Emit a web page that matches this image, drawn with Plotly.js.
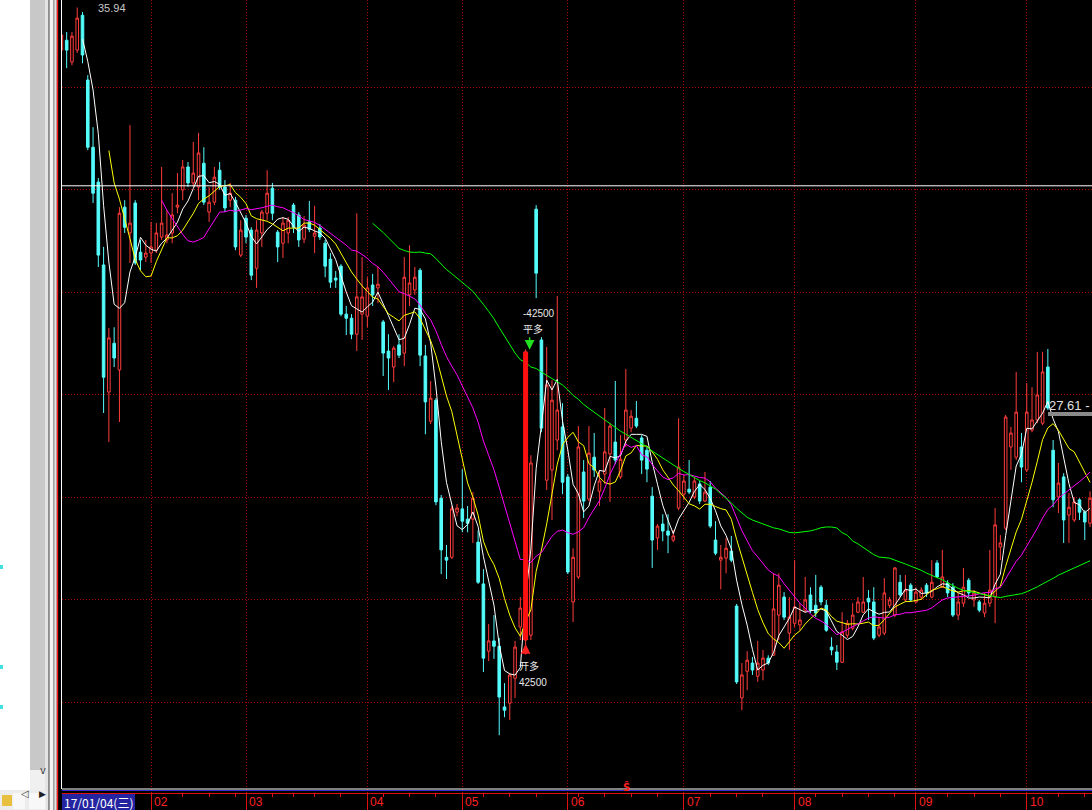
<!DOCTYPE html>
<html><head><meta charset="utf-8">
<script src="https://cdn.plot.ly/plotly-3.0.1.min.js"></script>
<style>html,body{margin:0;padding:0;background:#000;overflow:hidden}</style>
</head><body><div id="chart" style="width:1092px;height:810px"></div>
<script>
// ---- data (prices) ----
const openP = [34.90,35.14,34.61,34.90,35.75,34.17,32.53,31.68,29.66,26.56,
27.75,27.10,31.07,30.44,31.17,29.97,29.85,29.95,30.02,30.34,
30.27,30.44,31.07,31.49,32.05,31.66,31.56,32.14,30.95,31.19,
31.97,31.56,31.24,31.24,29.90,30.80,30.51,29.58,30.44,30.92,
31.53,30.46,30.19,30.44,31.12,30.88,30.29,30.71,30.36,30.56,
30.19,29.80,29.34,29.63,28.46,28.36,27.97,28.46,28.41,29.17,
29.10,28.27,27.56,27.17,27.71,27.51,28.93,29.05,29.53,27.44,
25.85,26.36,23.97,22.53,22.53,23.63,23.71,23.46,23.46,22.90,
21.88,20.24,20.49,20.36,18.88,18.97,19.58,20.83,20.51,20.63,
31.02,27.83,24.41,24.66,25.39,25.71,24.49,21.44,22.05,24.61,
23.95,24.97,24.14,24.56,25.05,25.34,24.49,25.39,25.68,25.92,
25.44,25.14,24.02,23.00,23.34,23.17,22.95,23.73,24.07,24.19,
24.00,24.32,23.90,24.24,22.95,22.46,22.51,22.68,21.34,19.10,
19.75,19.95,19.63,19.78,20.07,20.14,21.12,21.56,20.68,20.92,
20.88,21.24,21.61,21.36,21.80,21.36,20.34,20.22,19.97,20.63,
20.80,21.19,21.19,21.53,21.44,20.63,20.68,21.36,21.12,21.92,
21.49,21.85,21.44,21.56,21.85,21.56,22.39,21.80,21.90,21.80,
21.12,21.41,21.97,21.49,21.44,21.17,21.41,21.56,22.78,23.24,
25.22,24.97,25.22,24.66,25.63,25.88,25.80,27.17,25.14,24.00,
24.49,23.56,23.44,23.93,23.63,23.36];
const highP = [35.39,35.34,35.34,35.94,35.83,34.29,33.02,31.78,30.10,28.12,
28.14,31.07,31.24,33.07,31.24,30.27,30.27,30.71,30.68,32.05,
31.00,31.41,31.90,32.22,32.17,32.66,32.88,32.53,31.56,32.05,
32.17,31.73,31.66,31.32,30.75,30.88,30.58,30.75,31.00,31.97,
31.66,30.51,30.83,30.83,31.17,30.95,30.85,31.22,31.10,30.66,
30.27,29.95,29.51,29.68,28.66,28.46,30.92,29.85,29.36,29.44,
29.63,28.32,27.97,27.68,27.97,29.85,30.14,29.61,29.58,27.71,
26.83,26.41,24.05,22.83,23.78,23.83,24.68,23.78,24.12,23.19,
22.24,20.90,21.12,20.56,19.46,19.71,20.49,21.56,27.60,25.02,
31.12,27.90,27.66,26.85,28.90,26.29,24.56,22.75,25.73,24.90,
25.73,25.56,24.66,26.17,25.80,26.83,25.51,27.12,26.12,26.34,
25.51,25.22,24.24,23.34,23.58,23.58,23.19,25.92,24.53,24.90,
24.46,24.39,24.61,24.39,23.41,22.83,23.00,23.05,21.39,19.95,
20.24,20.10,20.49,20.27,20.14,22.14,22.14,21.68,21.56,22.46,
21.41,22.05,21.80,22.10,21.85,21.49,20.58,20.39,21.19,21.00,
21.41,21.56,22.05,21.73,21.80,21.07,22.02,21.56,22.29,22.10,
22.10,21.90,21.80,21.80,21.90,22.46,22.46,22.71,21.97,21.90,
21.66,22.27,22.02,21.73,21.49,21.66,22.71,23.73,23.07,26.00,
25.71,27.05,25.56,26.78,26.68,27.54,27.54,27.61,25.39,24.83,
24.58,24.10,24.00,23.97,23.68,24.14];
const lowP = [34.78,34.46,34.53,34.83,34.58,32.46,31.17,29.61,26.05,25.34,
27.17,25.83,30.44,29.71,29.66,29.53,29.73,29.71,29.95,30.27,
30.19,30.19,30.92,31.24,31.56,31.56,31.24,31.12,30.71,31.12,
31.49,30.95,31.07,30.02,29.85,30.19,29.29,29.10,30.10,30.75,
30.75,29.73,29.83,30.19,30.44,30.10,30.19,30.46,29.95,30.27,
29.36,29.10,29.10,28.41,27.95,27.85,27.56,27.83,28.14,28.66,
28.73,26.95,26.61,26.80,27.39,27.19,28.66,28.93,27.19,25.53,
25.78,23.80,22.12,22.00,22.49,23.53,23.14,23.14,22.88,21.88,
19.73,20.00,20.05,18.19,18.63,18.56,19.10,20.51,20.39,20.51,
28.85,25.58,24.17,23.44,25.14,24.07,22.12,20.95,22.00,23.49,
23.90,24.49,23.78,24.32,23.88,24.80,24.44,25.22,25.58,25.68,
24.56,24.36,22.27,22.71,22.92,22.63,22.90,23.68,23.92,24.07,
23.95,23.83,23.88,23.24,22.58,21.75,22.14,22.41,19.44,18.80,
19.29,19.66,19.49,19.53,19.90,20.12,20.51,21.00,20.27,20.83,
20.75,21.17,21.17,21.07,21.36,20.71,20.14,19.78,19.95,20.56,
20.75,21.17,21.17,21.00,20.51,20.58,20.63,21.29,21.07,21.56,
21.44,21.44,21.41,21.49,21.56,21.53,22.02,21.78,21.56,21.07,
21.00,21.32,21.56,21.32,21.19,21.07,21.32,20.92,22.46,23.19,
24.66,24.90,24.36,24.61,25.58,25.80,25.75,26.12,23.75,23.61,
22.88,22.88,23.39,23.44,22.95,23.27];
const closeP = [35.27,34.90,35.24,35.68,34.78,32.53,31.41,29.90,26.92,27.88,
27.39,30.92,30.58,30.68,29.71,29.78,29.95,30.10,30.44,30.68,
30.39,30.88,31.12,32.05,31.66,31.90,32.39,31.19,31.19,31.80,
31.56,31.05,31.41,30.10,30.51,30.34,29.41,30.51,30.95,31.41,
30.92,30.10,30.68,30.75,30.58,30.27,30.63,30.53,30.44,30.34,
29.63,29.24,29.29,28.46,28.36,27.97,28.88,28.88,29.10,28.93,
29.19,27.51,27.39,27.63,27.46,29.36,29.22,29.36,27.46,26.32,
26.41,23.88,22.71,22.46,23.71,23.73,23.41,23.36,23.97,21.92,
20.07,20.49,20.36,19.12,18.80,19.66,20.34,21.29,27.54,24.83,
29.46,25.68,26.73,26.36,26.12,24.36,22.17,22.53,25.22,23.90,
25.07,24.66,24.39,25.10,25.73,24.90,24.92,26.12,25.97,25.73,
24.90,24.68,22.95,23.29,23.17,23.07,23.05,24.73,24.39,24.12,
24.39,23.90,24.12,23.29,22.63,22.53,22.75,22.46,19.49,19.66,
20.02,19.78,19.95,20.07,19.95,21.27,21.85,21.07,21.07,21.32,
21.00,21.49,21.24,21.17,21.44,20.75,20.27,19.97,20.71,20.92,
21.12,21.44,21.44,21.44,20.56,20.83,21.66,21.49,22.27,21.61,
21.73,21.49,21.68,21.73,21.66,21.92,22.05,22.05,21.66,21.12,
21.44,21.80,21.66,21.66,21.24,21.41,21.73,23.32,22.88,25.95,
25.56,26.07,24.73,26.07,25.88,26.49,27.05,26.17,23.93,24.34,
23.44,23.75,23.88,23.63,23.39,23.97];

const maPeriods = [5, 10, 20, 60];
const maColors = ['#ffffff', '#ffff00', '#ff00ff', '#00ff00'];
const monthStartIdx = [17, 35, 58, 76, 96, 118, 139, 162, 183];
const monthLabels = ['02', '03', '04', '05', '06', '07', '08', '09', '10'];
const weekTickIdx = [23, 28, 33, 40, 44, 48, 53, 61, 66, 71, 80, 85, 90, 98, 103, 108, 113, 123, 128, 133, 143, 148, 153, 158, 168, 173, 178, 189, 194];
const gridPrices = [19, 21.5, 24, 26.5, 29, 31.5, 34];
const cursorPrice = 31.59;
const signalIdx = 88;
const signalEntryPrice = 20.51;
const signalExitPrice = 27.54;
const signalEntryText = ['开多', '42500'];
const signalExitText = ['-42500', '平多'];
const maxLabel = '35.94';
const rightLabel = '27.61 -';
const firstDateLabel = '17/01/04(三)';

// ---- build ----
const idx = closeP.map((_, i) => i);
function sma(arr, n) {
  return arr.map((_, i) => {
    if (i < n - 1) return null;
    let s = 0;
    for (let k = i - n + 1; k <= i; k++) s += arr[k];
    return s / n;
  });
}
const W = 1092, H = 810, ML = 62, MB = 17;
const PW = W - ML, PH = H - MB;
const px = x => (x - ML) / PW;
const py = y => 1 - y / PH;

const traces = [];
traces.push({
  type: 'candlestick', x: idx, open: openP, high: highP, low: lowP, close: closeP,
  increasing: {line: {color: '#ff3c3c', width: 1}, fillcolor: '#000000'},
  decreasing: {line: {color: '#54fcfc', width: 1}, fillcolor: '#54fcfc'},
  whiskerwidth: 0, hoverinfo: 'skip', showlegend: false
});
maPeriods.forEach((p, k) => {
  traces.push({type: 'scatter', mode: 'lines', x: idx, y: sma(closeP, p),
    line: {color: maColors[k], width: 1}, hoverinfo: 'skip', connectgaps: false});
});
traces.push({type: 'scatter', mode: 'lines', x: [signalIdx, signalIdx],
  y: [signalEntryPrice, signalExitPrice], line: {color: '#ff1010', width: 5}, hoverinfo: 'skip'});

const cjk = '"Noto Sans CJK SC", "Liberation Sans", sans-serif';
const annotations = [];
monthStartIdx.forEach((m, k) => {
  annotations.push({x: m, xref: 'x', y: py(802), yref: 'paper', text: monthLabels[k],
    showarrow: false, xanchor: 'left', yanchor: 'middle', xshift: 1,
    font: {family: 'Liberation Sans, Arial', size: 12, color: '#ff2020'}});
});
annotations.push({x: px(98), xref: 'paper', y: py(802), yref: 'paper', text: firstDateLabel,
  showarrow: false, xanchor: 'center', yanchor: 'middle',
  font: {family: cjk, size: 12, color: '#ffffff'}});
annotations.push({x: px(96), xref: 'paper', y: py(0), yref: 'paper', text: maxLabel,
  showarrow: false, xanchor: 'left', yanchor: 'top',
  font: {family: 'Liberation Sans, Arial', size: 11, color: '#c8c8c8'}});
annotations.push({x: px(1047), xref: 'paper', y: py(405), yref: 'paper', text: rightLabel,
  showarrow: false, xanchor: 'left', yanchor: 'middle',
  font: {family: 'Liberation Sans, Arial', size: 13, color: '#e0e0e0'}});
// signal texts and arrows
annotations.push({x: signalIdx, xref: 'x', y: py(313), yref: 'paper', text: signalExitText[0],
  showarrow: false, xanchor: 'left', xshift: -5, yanchor: 'middle',
  font: {family: 'Liberation Sans, Arial', size: 10, color: '#e8e8e8'}});
annotations.push({x: signalIdx, xref: 'x', y: py(329), yref: 'paper', text: signalExitText[1],
  showarrow: false, xanchor: 'left', xshift: -5, yanchor: 'middle',
  font: {family: cjk, size: 10, color: '#e8e8e8'}});
annotations.push({x: signalIdx, xref: 'x', y: py(665), yref: 'paper', text: signalEntryText[0],
  showarrow: false, xanchor: 'left', xshift: -9, yanchor: 'middle',
  font: {family: cjk, size: 10, color: '#e8e8e8'}});
annotations.push({x: signalIdx, xref: 'x', y: py(682), yref: 'paper', text: signalEntryText[1],
  showarrow: false, xanchor: 'left', xshift: -9, yanchor: 'middle',
  font: {family: 'Liberation Sans, Arial', size: 10, color: '#e8e8e8'}});
annotations.push({x: signalIdx, xref: 'x', y: signalExitPrice, yref: 'y', text: '',
  showarrow: true, ax: 0, ay: -16, xshift: 4, arrowcolor: '#20e020', arrowhead: 2, arrowsize: 1.3, arrowwidth: 1.5, standoff: 2});
annotations.push({x: signalIdx, xref: 'x', y: signalEntryPrice, yref: 'y', text: '',
  showarrow: true, ax: 0, ay: 16, arrowcolor: '#ff2020', arrowhead: 2, arrowsize: 1.3, arrowwidth: 1.5, standoff: 4});
annotations.push({x: px(626), xref: 'paper', y: py(787), yref: 'paper', text: '<b>Ŝ</b>',
  showarrow: false, xanchor: 'center', yanchor: 'middle',
  font: {family: 'DejaVu Sans', size: 10, color: '#ff2020'}});
// bottom-left scroll buttons
annotations.push({x: px(19), xref: 'paper', y: py(801), yref: 'paper', text: '◁',
  showarrow: false, font: {family: 'DejaVu Sans', size: 10, color: '#404040'}});
annotations.push({x: px(37), xref: 'paper', y: py(801), yref: 'paper', text: '▶',
  showarrow: false, font: {family: 'DejaVu Sans', size: 9, color: '#202020'}});
annotations.push({x: px(38), xref: 'paper', y: py(778), yref: 'paper', text: 'v',
  showarrow: false, font: {family: 'DejaVu Sans', size: 10, color: '#404040'}});

function rectPx(x0, y0, x1, y1, color) {
  return {type: 'rect', xref: 'paper', yref: 'paper', x0: px(x0), x1: px(x1), y0: py(y0), y1: py(y1),
    fillcolor: color, line: {width: 0}, layer: 'above'};
}
const shapes = [
  rectPx(0, 0, 30, 791, '#ffffff'),
  rectPx(30, 0, 45, 770, '#c8c8c8'),
  rectPx(30, 770, 45, 791, '#f0f0f0'),
  rectPx(45, 0, 48, 810, '#e4e4e4'),
  rectPx(48, 0, 49.5, 810, '#8c8c8c'),
  rectPx(49.5, 0, 53, 810, '#f4f4f4'),
  rectPx(53, 0, 54.2, 810, '#a0a0a0'),
  rectPx(54.2, 0, 56.8, 810, '#e4e4e4'),
  rectPx(56.8, 0, 58.4, 810, '#ff1a1a'),
  rectPx(58.4, 0, 61, 810, '#000000'),
  rectPx(61, 0, 62, 789, '#ffffff'),
  rectPx(0, 790, 46, 810, '#ececec'),
  rectPx(2, 795, 12, 806, '#e8c040'),
  rectPx(13, 793, 25, 809, '#f8f8f8'),
  rectPx(29, 793, 45, 809, '#f8f8f8'),
  rectPx(0, 565, 3, 569, '#40e0e0'),
  rectPx(0, 665, 3, 669, '#40e0e0'),
  rectPx(0, 705, 3, 709, '#40e0e0'),
  rectPx(62, 788.5, 1092, 789.5, '#ffffff'),
  rectPx(62, 790, 1092, 791, '#3030d0'),
  rectPx(62, 794, 135, 810, '#2424a0'),
  rectPx(1048, 412, 1092, 416, '#8a8a8a'),
  {type: 'line', xref: 'paper', yref: 'y', x0: 0, x1: 1, y0: cursorPrice, y1: cursorPrice,
    line: {color: '#ffffff', width: 1}, layer: 'above'}
];

const layout = {
  width: W, height: H,
  margin: {l: ML, r: 0, t: 0, b: MB, pad: 0},
  paper_bgcolor: '#000000', plot_bgcolor: '#000000',
  showlegend: false, dragmode: false,
  xaxis: {range: [0.114, 195.37], showgrid: true, gridcolor: '#b00000', griddash: '1px,2px', gridwidth: 1,
    tickmode: 'array', tickvals: monthStartIdx, showticklabels: false,
    ticks: 'outside', ticklen: 17, tickcolor: '#e01010', tickwidth: 1,
    showline: true, linecolor: '#e01010', linewidth: 1, zeroline: false,
    minor: {tickmode: 'array', tickvals: weekTickIdx, ticks: 'outside', ticklen: 3, tickcolor: '#e01010', tickwidth: 1, showgrid: false},
    rangeslider: {visible: false}, fixedrange: true},
  yaxis: {range: [36.122 - PH / 41, 36.122], tickmode: 'array', tickvals: gridPrices,
    showticklabels: false, ticks: '', showgrid: true, gridcolor: '#b00000', griddash: '1px,2px', gridwidth: 1,
    zeroline: false, showline: false, fixedrange: true},
  shapes: shapes, annotations: annotations
};
Plotly.newPlot('chart', traces, layout, {displayModeBar: false, staticPlot: true});
</script>
</body></html>
